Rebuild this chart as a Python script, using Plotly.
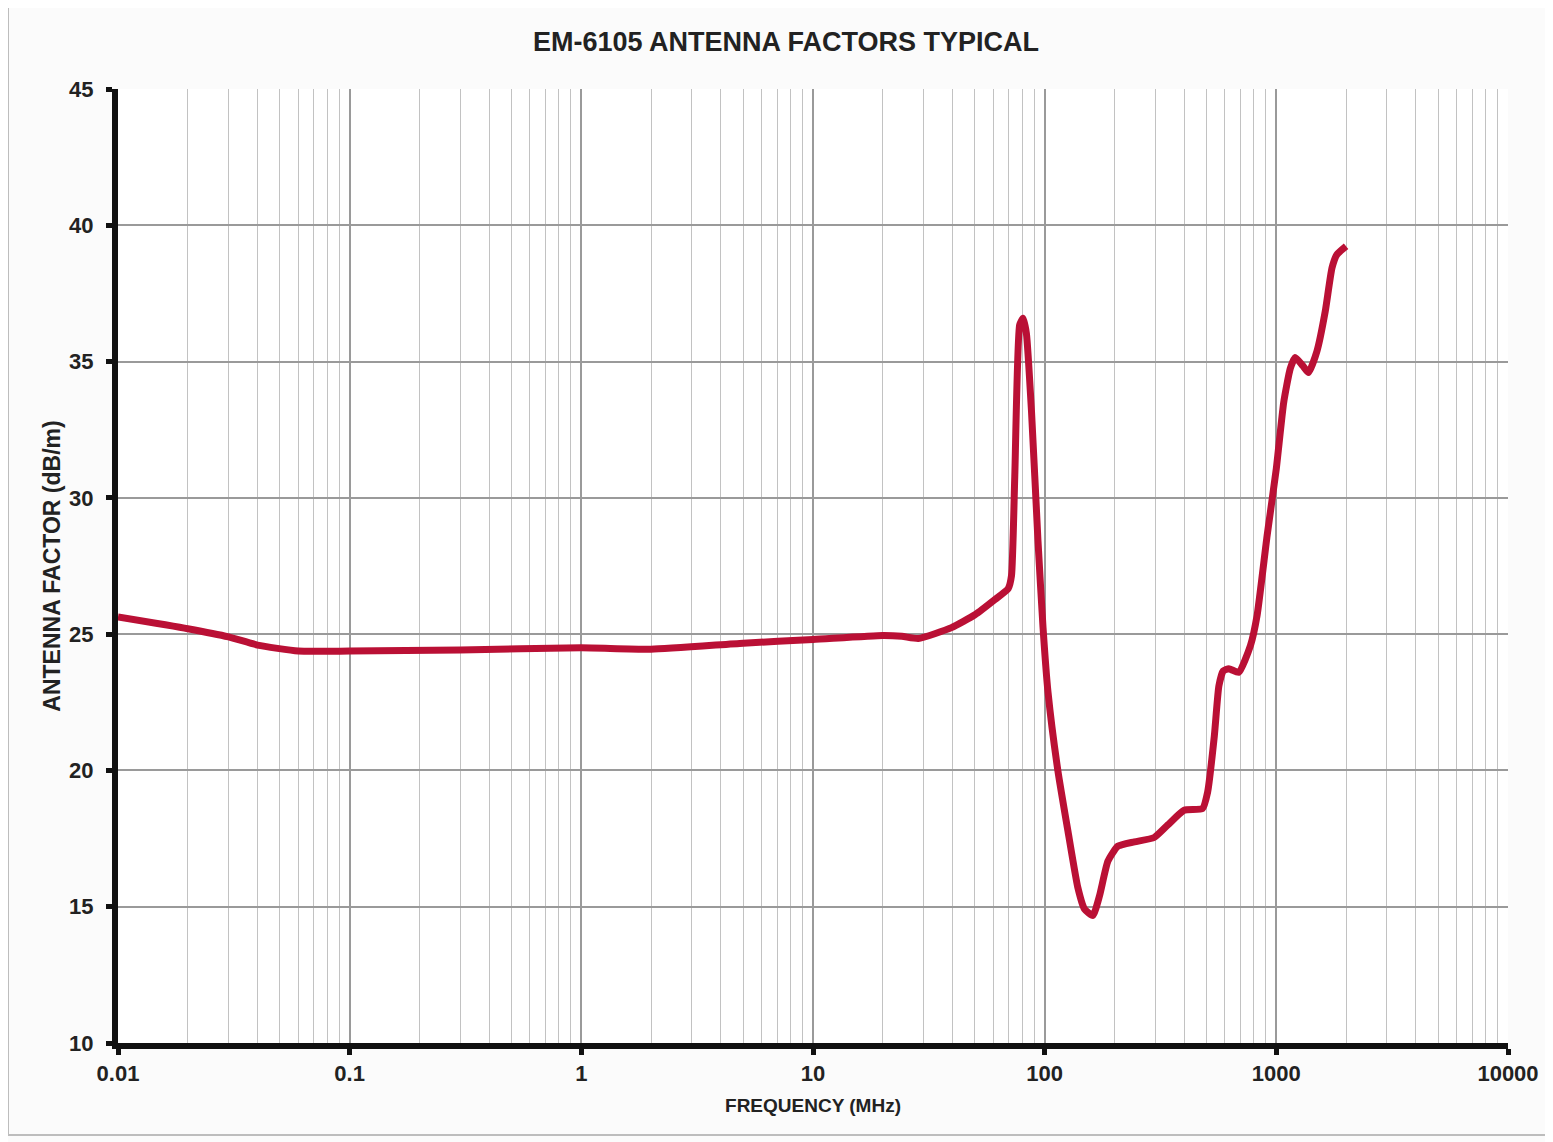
import plotly.graph_objects as go

freq_mhz = [0.01, 0.02, 0.03, 0.04, 0.06, 0.1, 0.3, 1, 2, 5, 10, 20, 24.2, 28.5,
            39.6, 50, 61, 69.6, 71.9, 74.3, 78, 80.7, 83.4, 87.7, 93.6, 98.4, 103.4,
            114, 126, 139, 148.5, 161.5, 172.5, 187.5, 207, 244, 297, 340, 400, 480,
            505, 540, 565, 590, 624, 688, 773, 826, 912, 1000, 1076, 1149, 1207, 1300,
            1377, 1496, 1626, 1738, 1824, 2000]
af_dbm = [25.63, 25.2, 24.9, 24.6, 24.38, 24.38, 24.42, 24.5, 24.45, 24.67, 24.8, 24.95, 24.92, 24.84,
          25.24, 25.71, 26.27, 26.67, 27.14, 30.8, 36.35, 36.59, 36.03, 33.2, 28.4, 25.24, 22.86,
          20.0, 17.78, 15.71, 14.92, 14.68, 15.4, 16.67, 17.22, 17.38, 17.54, 18.0, 18.54, 18.6,
          19.2, 21.27, 23.1, 23.65, 23.73, 23.6, 24.58, 25.69, 28.6, 31.08, 33.5, 34.75, 35.15, 34.85,
          34.6, 35.37, 36.84, 38.43, 38.92, 39.23]

x_tick_vals = [0.01, 0.1, 1, 10, 100, 1000, 10000]
x_tick_text = ["0.01", "0.1", "1", "10", "100", "1000", "10000"]
y_tick_vals = [10, 15, 20, 25, 30, 35, 40, 45]

title_text = "EM-6105 ANTENNA FACTORS TYPICAL"
x_title = "FREQUENCY (MHz)"
y_title = "ANTENNA FACTOR (dB/m)"

fig = go.Figure()
fig.add_trace(go.Scatter(
    x=freq_mhz, y=af_dbm, mode="lines",
    line=dict(color="#BA1035", width=7, shape="spline", smoothing=0.5),
    showlegend=False, hoverinfo="x+y"))

tick_font = dict(family="Liberation Sans, Arial, sans-serif", size=22, color="#222222")

# plot area target: x 117..1507, y 89..1043 (page has ~8px body offset)
L, T = 110, 81
PW, PH = 1390, 954
W, H = 1553, 1142

fig.update_layout(
    width=W, height=H,
    margin=dict(l=L, r=W - L - PW, t=T, b=H - T - PH),
    paper_bgcolor="#FBFBFB", plot_bgcolor="#FFFFFF",
    title=dict(text="<b>" + title_text + "</b>", x=(785 - 7) / W, xanchor="center",
               y=1 - 34 / H, yanchor="middle",
               font=dict(family="Liberation Sans, Arial, sans-serif", size=27, color="#222222")),
    xaxis=dict(
        type="log", range=[-2, 4],
        tickvals=x_tick_vals, ticktext=["<b>" + t + "</b>" for t in x_tick_text],
        tickfont=tick_font, ticks="outside", ticklen=6, tickwidth=5, tickcolor="#111111",
        showline=True, linecolor="#111111", linewidth=6,
        showgrid=True, gridcolor="#9A9A9A", gridwidth=1.5,
        minor=dict(dtick="D1", showgrid=True, gridcolor="#C2C2C2", gridwidth=1, ticks=""),
        zeroline=False,
        title=dict(text="<b>" + x_title + "</b>", standoff=15,
                   font=dict(family="Liberation Sans Narrow, Arial Narrow, Liberation Sans, sans-serif",
                             size=19, color="#222222")),
    ),
    yaxis=dict(
        range=[10, 45], tickvals=y_tick_vals, ticktext=["<b>%d</b>" % v for v in y_tick_vals],
        tickfont=tick_font, ticks="outside", ticklen=6, tickwidth=5, tickcolor="#111111",
        showline=True, linecolor="#111111", linewidth=6,
        showgrid=True, gridcolor="#9A9A9A", gridwidth=1.5,
        zeroline=False, ticklabelstandoff=8,
        title=dict(text="<b>" + y_title + "</b>", standoff=4,
                   font=dict(family="Liberation Sans, Arial, sans-serif", size=23, color="#222222")),
    ),
)

fig.add_shape(type="rect", xref="paper", yref="paper",
              x0=-110 / PW, x1=1.0 + 44 / PW, y0=-92 / PH, y1=1 + 82 / PH,
              line=dict(color="#BDBDBD", width=2), fillcolor="rgba(0,0,0,0)", layer="below")

fig.write_html("out.html")
